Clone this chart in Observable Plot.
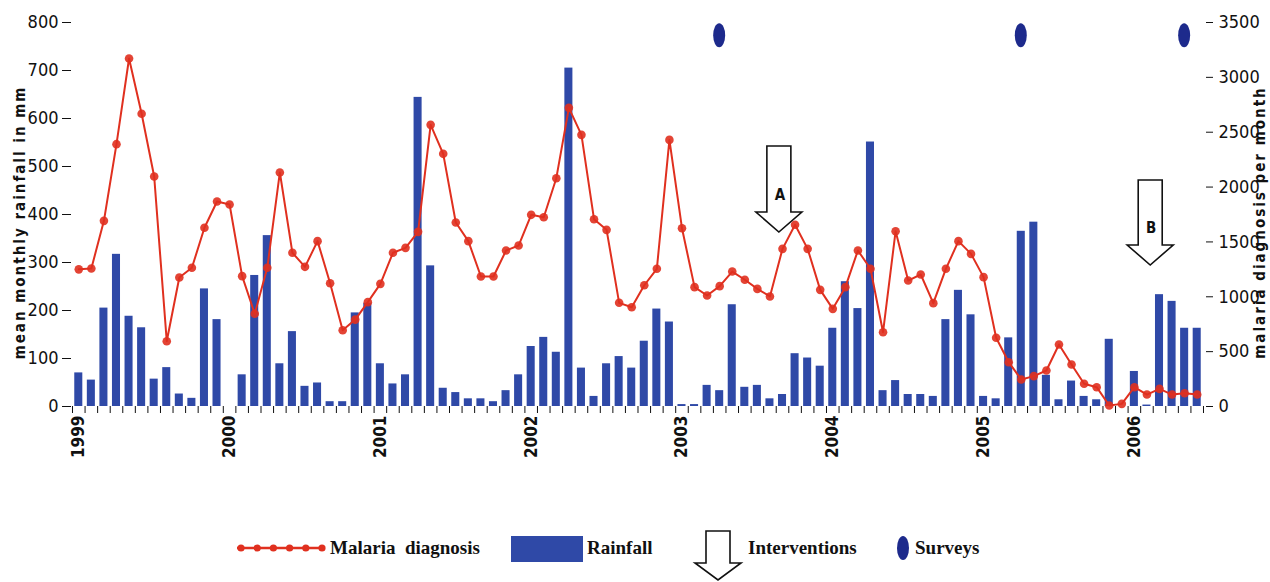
<!DOCTYPE html>
<html>
<head>
<meta charset="utf-8">
<script src="https://cdn.jsdelivr.net/npm/d3@7"></script>
<script src="https://cdn.jsdelivr.net/npm/@observablehq/plot@0.6"></script>
<style>
  html, body { margin: 0; padding: 0; background: #fff; }
  #wrap { width: 1270px; height: 582px; overflow: hidden; }
  svg { display: block; }
</style>
</head>
<body>
<div id="wrap"></div>
<script>
// ---- data (Jan 1999 .. Jun 2006, monthly) ----
const yearLabels = ["1999", "2000", "2001", "2002", "2003", "2004", "2005", "2006"];
const rainfall = [
  70, 55, 205, 317, 188, 164, 57, 81, 26, 17, 245, 181,
  0, 66, 273, 356, 89, 156, 42, 49, 10, 10, 195, 215,
  89, 47, 66, 644, 293, 38, 29, 16, 16, 10, 33, 66,
  125, 144, 113, 705, 80, 21, 89, 104, 80, 136, 203, 176,
  4, 4, 44, 33, 212, 40, 44, 16, 25, 110, 101, 84,
  163, 260, 204, 551, 33, 54, 25, 25, 21, 181, 242, 191,
  21, 16, 143, 365, 384, 65, 14, 53, 21, 14, 140, 0,
  73, 3, 233, 219, 163, 163
];
const malaria = [
  1250, 1258, 1692, 2391, 3172, 2668, 2096, 595, 1176, 1264, 1629, 1868,
  1841, 1188, 845, 1264, 2133, 1401, 1273, 1507, 1124, 695, 792, 951,
  1118, 1401, 1446, 1592, 2567, 2303, 1677, 1507, 1185, 1185, 1422, 1467,
  1747, 1725, 2081, 2722, 2476, 1707, 1610, 945, 905, 1105, 1255, 2430,
  1625, 1088, 1012, 1097, 1230, 1155, 1072, 1003, 1437, 1656, 1437, 1063,
  890, 1088, 1422, 1255, 677, 1598, 1148, 1203, 942, 1255, 1507, 1391,
  1179, 626, 404, 246, 277, 328, 565, 383, 207, 176, 9, 24,
  176, 109, 161, 109, 121, 109
];
const surveyMonths = [51, 75, 88];          // month index (0 = Jan 1999)
const surveyLevel = 3380;                   // cases-axis height of survey marks
const interventionLabels = ["A", "B"];
const interventionMonths = [55.75, 85.3];
const interventionTop = [2370, 2060];       // cases-axis values
const interventionTip = [1586, 1285];
const leftTicks = [0, 100, 200, 300, 400, 500, 600, 700, 800];
const rightTicks = [0, 500, 1000, 1500, 2000, 2500, 3000, 3500];

// ---- derived ----
const k = 800 / 3500; // cases -> mm scale
const data = rainfall.map((r, i) => ({ i, rain: r, cases: malaria[i] }));
const janIdx = yearLabels.map((_, j) => j * 12);
const monthEdges = d3.range(-0.5, data.length, 1);

const BLUE = "#2f49a7";
const RED = "#e0301f";
const NAVY = "#1d2a8c";
const sans = "'Liberation Sans Narrow', 'DejaVu Sans Condensed', 'Liberation Sans', Arial, sans-serif";

function annotations(index, scales) {
  const g = d3.create("svg:g");
  surveyMonths.forEach(m => {
    g.append("ellipse")
      .attr("cx", scales.x(m)).attr("cy", scales.y(surveyLevel * k))
      .attr("rx", 6).attr("ry", 12).attr("fill", NAVY);
  });
  interventionMonths.forEach((m, j) => {
    const X = scales.x(m), Yt = scales.y(interventionTop[j] * k), Yb = scales.y(interventionTip[j] * k);
    const bw = 12, hw = 23, hh = 20;
    g.append("path")
      .attr("d", `M${X - bw},${Yt}L${X + bw},${Yt}L${X + bw},${Yb - hh}L${X + hw},${Yb - hh}L${X},${Yb}L${X - hw},${Yb - hh}L${X - bw},${Yb - hh}Z`)
      .attr("fill", "#fff").attr("stroke", "#111").attr("stroke-width", 1.6).attr("stroke-linejoin", "miter");
    g.append("text")
      .attr("x", X + 1).attr("y", Yt + (Yb - Yt) * 0.57)
      .attr("text-anchor", "middle").attr("dominant-baseline", "middle")
      .attr("font-family", sans).attr("font-weight", "bold").attr("font-size", 15)
      .attr("fill", "#111").text(interventionLabels[j]);
  });
  return g.node();
}

const chart = Plot.plot({
  width: 1270,
  height: 500,
  marginLeft: 71,
  marginRight: 65,
  marginTop: 22,
  marginBottom: 94,
  style: { fontFamily: sans, color: "#111", background: "#fff", overflow: "visible" },
  x: { type: "linear", domain: [-0.58, 89.66] },
  y: { domain: [0, 800] },
  marks: [
    Plot.rectY(data, { x1: d => d.i - 0.32, x2: d => d.i + 0.32, y: "rain", fill: BLUE }),
    Plot.line(data, { x: "i", y: d => d.cases * k, stroke: RED, strokeWidth: 2 }),
    Plot.dot(data, { x: "i", y: d => d.cases * k, r: 4.3, fill: RED, fillOpacity: 0.9 }),
    Plot.axisY(leftTicks, { anchor: "left", tickSize: 9, tickPadding: 4, fontSize: 18, line: true, label: null }),
    Plot.axisY(rightTicks.map(v => v * k), { anchor: "right", tickSize: 7, tickPadding: 6, fontSize: 18, line: true, label: null, tickFormat: v => String(Math.round(v / k)) }),
    Plot.axisX(monthEdges, { anchor: "bottom", tickSize: 7, tickFormat: () => "", line: true, label: null }),
    Plot.axisX(janIdx, { anchor: "bottom", tickSize: 0, tickPadding: 9, tickRotate: -90, fontSize: 17, fontWeight: "bold", label: null, tickFormat: (v) => yearLabels[janIdx.indexOf(v)] }),
    Plot.text(["mean monthly rainfall in mm"], { frameAnchor: "left", textAnchor: "middle", dx: -47, dy: 8, rotate: -90, lineAnchor: "bottom", fontSize: 15, fontWeight: "bold", fill: "#111" }),
    Plot.text(["malaria diagnosis per month"], { frameAnchor: "right", textAnchor: "middle", dx: 59, dy: 8, rotate: -90, lineAnchor: "bottom", fontSize: 15, fontWeight: "bold", fill: "#111" }),
    annotations
  ]
});

d3.select(chart).selectAll("text")
  .filter(function () { return /rainfall in mm|diagnosis per month/.test(this.textContent); })
  .attr("letter-spacing", "2px");

document.getElementById("wrap").appendChild(chart);

// ---- legend below the chart ----
const lg = d3.select("#wrap").append("svg").attr("width", 1270).attr("height", 82);
const serif = "'Liberation Serif', 'Times New Roman', serif";
const ly = 48;
lg.append("line").attr("x1", 237).attr("x2", 322).attr("y1", ly).attr("y2", ly).attr("stroke", RED).attr("stroke-width", 2.5);
d3.range(6).forEach(j => {
  lg.append("circle").attr("cx", 241 + j * 16.2).attr("cy", ly).attr("r", 3.6).attr("fill", RED);
});
lg.append("text").attr("x", 330).attr("y", ly + 6).attr("font-family", serif).attr("font-weight", "bold").attr("font-size", 19).attr("fill", "#111").attr("xml:space", "preserve").text("Malaria  diagnosis");
lg.append("rect").attr("x", 511).attr("y", 36).attr("width", 72).attr("height", 26).attr("fill", BLUE);
lg.append("text").attr("x", 587).attr("y", ly + 6).attr("font-family", serif).attr("font-weight", "bold").attr("font-size", 19).attr("fill", "#111").text("Rainfall");
{
  const X = 718, Yt = 31, Yb = 80, bw = 12, hw = 23, hh = 17;
  lg.append("path")
    .attr("d", `M${X - bw},${Yt}L${X + bw},${Yt}L${X + bw},${Yb - hh}L${X + hw},${Yb - hh}L${X},${Yb}L${X - hw},${Yb - hh}L${X - bw},${Yb - hh}Z`)
    .attr("fill", "#fff").attr("stroke", "#111").attr("stroke-width", 1.6);
}
lg.append("text").attr("x", 748).attr("y", ly + 6).attr("font-family", serif).attr("font-weight", "bold").attr("font-size", 19).attr("fill", "#111").text("Interventions");
lg.append("ellipse").attr("cx", 903).attr("cy", ly).attr("rx", 6).attr("ry", 12).attr("fill", NAVY);
lg.append("text").attr("x", 915).attr("y", ly + 6).attr("font-family", serif).attr("font-weight", "bold").attr("font-size", 19).attr("fill", "#111").text("Surveys");
</script>
</body>
</html>
